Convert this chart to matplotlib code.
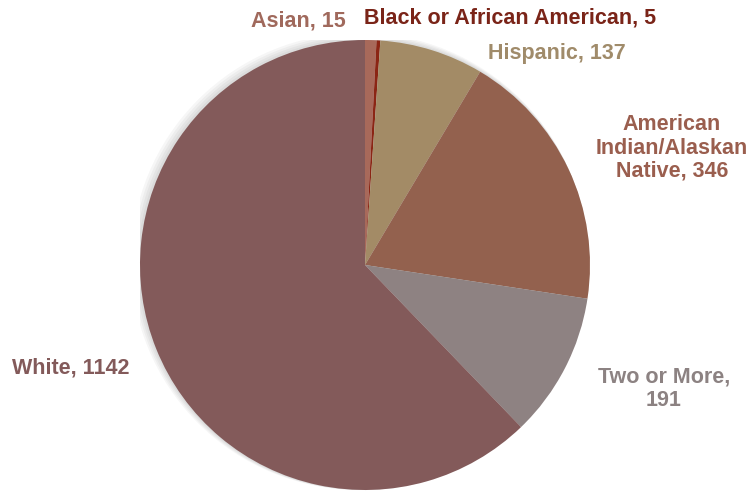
import matplotlib
matplotlib.use("Agg")
import matplotlib.pyplot as plt
from matplotlib.patches import Circle

categories = ["Asian", "Black or African American", "Hispanic",
              "American Indian/Alaskan\nNative", "Two or More", "White"]
values = [15, 5, 137, 346, 191, 1142]
colors = ["#A8695A", "#8B2514", "#A38B66", "#93614E", "#8E8282", "#835A5A"]
label_colors = ["#A0695C", "#7A2418", "#A08B6A", "#9A5E4E", "#8C8282", "#835A5A"]
label_texts = ["Asian, 15", "Black or African American, 5", "Hispanic, 137",
               "American\nIndian/Alaskan\nNative, 346", "Two or More,\n191", "White, 1142"]
# label placement in figure pixels (x, y from top)
label_pos = [(298, 21), (510, 18), (557, 53), (672, 148), (664, 389), (71, 368)]

W, H = 754, 491
fig = plt.figure(figsize=(W / 100, H / 100), dpi=100)
cx, cy, r = 365, 265, 225
ax = fig.add_axes([(cx - r) / W, (H - cy - r) / H, 2 * r / W, 2 * r / H])
ax.set_aspect("equal")
ax.axis("off")

ax.pie(values, colors=colors, startangle=90, counterclock=False, radius=1.0,
       wedgeprops=dict(linewidth=0, edgecolor="none"))
# soft shadow
for i in range(4):
    ax.add_patch(Circle((-0.006 * (i + 1), 0.004 * (i + 1)), 1.0 + 0.004 * (i + 1),
                        color="black", alpha=0.035, lw=0, zorder=-1))
ax.set_xlim(-1.0, 1.0)
ax.set_ylim(-1.0, 1.0)

for t, c, (px, py) in zip(label_texts, label_colors, label_pos):
    fig.text(px / W, 1 - py / H, t, color=c, fontsize=15.5, fontweight="bold",
             family="Liberation Sans", ha="center", va="center", linespacing=1.15)

fig.savefig("out.png", dpi=100)
